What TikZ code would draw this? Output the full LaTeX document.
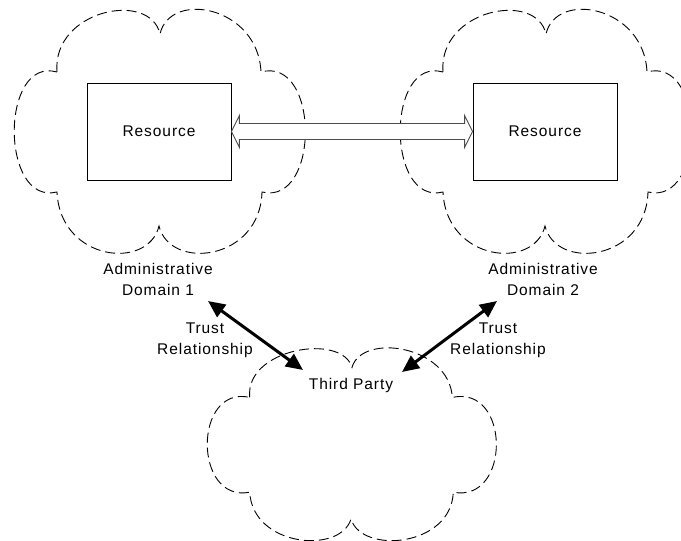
\documentclass[tikz,border=0pt]{standalone}
\usepackage{fontspec}
\setmainfont{Liberation Sans}[LetterSpace=6]
\usetikzlibrary{arrows.meta,calc}
\begin{document}
\begin{tikzpicture}[x=1pt,y=-1pt,
  cloudline/.style={draw=black,line width=0.9pt,dash pattern=on 10pt off 5pt},
  resbox/.style={draw=black,line width=0.8pt,minimum width=144pt,minimum height=97pt,inner sep=0pt,font=\fontsize{15.5}{21}\selectfont},
  lbl/.style={font=\fontsize{15.5}{21}\selectfont,align=center,inner sep=0pt,text=black},
  trust/.style={line width=3pt,{Triangle[length=17pt,width=15pt]}-{Triangle[length=17pt,width=15pt]}},
  dbl/.style={draw=black!70,line width=0.9pt,fill=white},
  cloudpic/.pic={\draw[cloudline] (-103,-59)
      .. controls (-108,-121) and (-10,-141) .. (0,-97)
      .. controls (10,-141) and (98,-125) .. (101,-59)
      .. controls (160,-75) and (160,75) .. (102,61)
      .. controls (100,130) and (10,140) .. (-1,95)
      .. controls (-12,140) and (-100,130) .. (-103,61)
      .. controls (-160,75) and (-160,-75) .. cycle;}
]
\useasboundingbox (0,0) rectangle (681,541);
\clip (0,0) rectangle (681,541);
% clouds
\pic at (160,131) {cloudpic};
\pic at (546,131) {cloudpic};
\pic[xscale=0.993,yscale=0.79] at (352,444) {cloudpic};
% resources
\node[resbox] (r1) at (159,131.5) {Resource};
\node[resbox] (r2) at (545,131.5) {Resource};
\draw[dbl] (r1.east) -- ++(8,-16) -- ++(0,8) -- ($(r2.west)+(-8,-8)$) -- ++(0,-8) -- (r2.west)
  -- ++(-8,16) -- ++(0,-8) -- ($(r1.east)+(8,8)$) -- ++(0,8) -- cycle;
% labels
\node[lbl,anchor=north] (ad1) at (158,263) {Administrative\\Domain 1};
\node[lbl,anchor=north] (ad2) at (543,263) {Administrative\\Domain 2};
\node[lbl,anchor=north] (tr1) at (205,323) {Trust\\Relationship};
\node[lbl,anchor=north] (tr2) at (498,323) {Trust\\Relationship};
\node[lbl,anchor=north] (tp) at (351,378) {Third Party};
% trust arrows
\coordinate (a1s) at (208,301);
\coordinate (a1e) at (303,370);
\coordinate (a2s) at (497,301);
\coordinate (a2e) at (402,372);
\draw[trust] (a1s) -- (a1e);
\draw[trust] (a2s) -- (a2e);
\end{tikzpicture}
\end{document}
